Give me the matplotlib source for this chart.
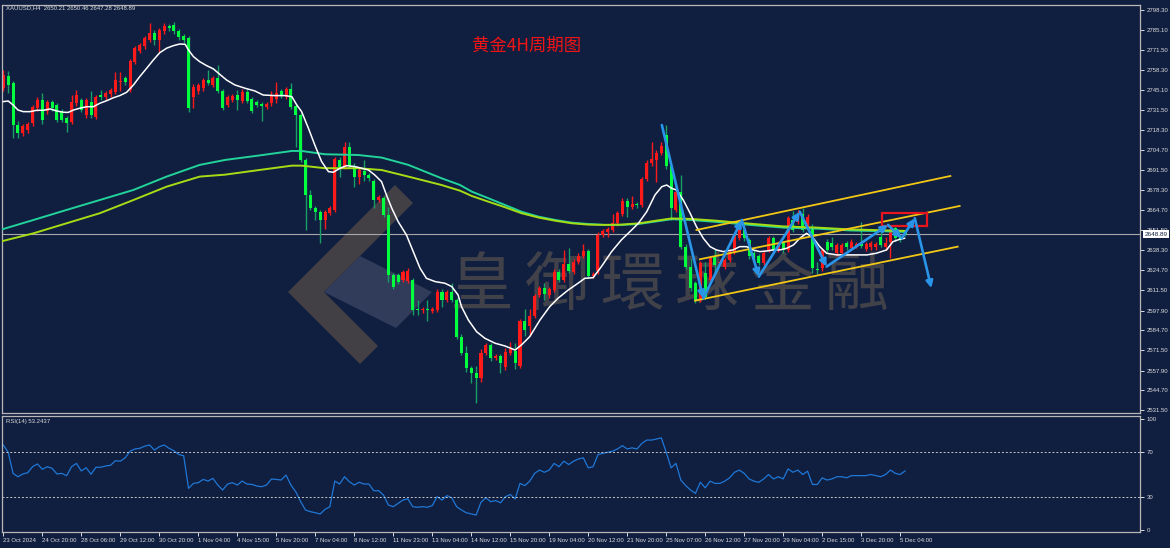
import matplotlib
matplotlib.use('Agg')
import matplotlib.pyplot as plt
import matplotlib.transforms as mtransforms
from matplotlib.patches import Polygon, Rectangle

plt.rcParams['font.family'] = ['Liberation Sans', 'Noto Sans CJK SC', 'DejaVu Sans']

BG = '#101e40'
FG = '#dcdcdc'
UP = '#ff1a1a'
DOWN = '#00ff3c'
DOWN_WICK = '#17a065'

# ---- XAUUSD H4 candles ----
opens = [
    2746.3, 2754.5, 2749.8, 2721.6, 2716.3, 2718.0, 2723.0, 2733.0, 2738.3, 2731.0,
    2737.0, 2735.0, 2731.0, 2726.0, 2723.6, 2736.0, 2738.0, 2728.0, 2737.0, 2727.0,
    2741.5, 2740.0, 2742.0, 2743.6, 2750.0, 2753.0, 2745.0, 2763.6, 2771.0, 2774.0,
    2778.3, 2783.0, 2778.3, 2784.0, 2787.6, 2788.3, 2784.0, 2781.0, 2779.8, 2740.5,
    2744.0, 2746.0, 2751.6, 2748.3, 2753.0, 2744.3, 2735.0, 2738.3, 2741.6, 2737.6,
    2743.8, 2739.0, 2737.0, 2735.3, 2733.6, 2736.0, 2739.0, 2744.0, 2740.5, 2745.6,
    2734.0, 2728.3, 2698.3, 2675.0, 2666.0, 2663.6, 2658.3, 2663.0, 2665.0, 2698.0,
    2694.0, 2707.2, 2694.5, 2687.0, 2691.0, 2688.0, 2684.3, 2671.6, 2673.0, 2661.6,
    2621.6, 2621.6, 2618.3, 2617.6, 2618.3, 2598.5, 2598.0, 2598.7, 2597.6, 2598.3,
    2610.5, 2605.0, 2610.0, 2605.0, 2580.5, 2569.4, 2559.4, 2556.0, 2553.0, 2569.6,
    2575.0, 2566.6, 2567.6, 2560.6, 2569.4, 2570.6, 2561.0, 2590.6, 2587.8, 2594.5,
    2608.3, 2612.8, 2608.0, 2611.6, 2623.8, 2618.3, 2629.0, 2623.8, 2630.5, 2634.3,
    2637.6, 2621.0, 2624.4, 2648.3, 2650.0, 2651.6, 2656.1, 2662.3, 2671.2, 2667.0,
    2669.0, 2668.5, 2685.6, 2696.1, 2698.3, 2702.8, 2715.0, 2694.0, 2665.0, 2677.0,
    2640.5, 2627.0, 2616.0, 2605.0, 2622.7, 2618.3, 2634.4, 2629.5, 2627.2, 2631.6,
    2637.2, 2646.3, 2651.6, 2645.0, 2636.0, 2634.0, 2629.4, 2638.3, 2646.0, 2638.3,
    2643.0, 2638.3, 2658.0, 2657.0, 2662.0, 2653.8, 2653.8, 2625.5, 2626.0, 2643.8,
    2643.0, 2636.1, 2636.0, 2643.0, 2639.4, 2641.0, 2642.0, 2639.0, 2640.0, 2640.0,
    2646.8, 2640.0, 2643.8, 2653.0, 2647.0, 2650.21]
highs = [
    2758.0, 2757.6, 2751.0, 2724.0, 2722.5, 2723.5, 2735.0, 2740.0, 2743.0, 2738.5,
    2738.5, 2736.5, 2732.5, 2727.5, 2741.6, 2745.0, 2739.5, 2739.5, 2744.0, 2741.5,
    2745.0, 2744.5, 2746.5, 2757.0, 2757.0, 2754.5, 2765.8, 2774.4, 2776.5, 2781.0,
    2789.6, 2785.0, 2786.5, 2789.6, 2789.0, 2790.0, 2785.5, 2782.5, 2781.0, 2748.7,
    2749.5, 2753.0, 2758.0, 2754.5, 2761.6, 2745.8, 2741.5, 2742.5, 2745.0, 2745.3,
    2745.3, 2740.0, 2738.5, 2736.8, 2736.8, 2744.0, 2750.0, 2745.5, 2747.0, 2749.6,
    2735.5, 2729.8, 2699.8, 2678.0, 2667.5, 2665.0, 2665.0, 2667.5, 2700.5, 2700.0,
    2710.5, 2710.0, 2696.0, 2693.0, 2698.0, 2689.5, 2685.8, 2675.0, 2674.5, 2667.0,
    2623.0, 2623.0, 2625.0, 2626.0, 2619.8, 2605.0, 2600.0, 2605.0, 2600.5, 2612.0,
    2612.0, 2611.5, 2616.0, 2606.5, 2582.0, 2574.0, 2561.0, 2561.0, 2572.5, 2576.5,
    2576.5, 2569.0, 2569.0, 2573.0, 2577.0, 2576.0, 2592.0, 2599.0, 2599.0, 2609.0,
    2614.3, 2616.0, 2613.5, 2625.3, 2625.3, 2638.0, 2639.5, 2632.0, 2636.0, 2642.0,
    2639.0, 2623.5, 2650.0, 2652.0, 2653.5, 2662.0, 2664.3, 2672.7, 2672.7, 2674.0,
    2670.5, 2687.0, 2698.0, 2710.5, 2704.7, 2710.5, 2721.6, 2695.5, 2678.7, 2688.3,
    2642.0, 2632.0, 2617.5, 2631.0, 2630.0, 2634.3, 2639.0, 2632.0, 2633.0, 2638.7,
    2649.8, 2656.0, 2653.0, 2646.5, 2638.0, 2635.5, 2638.0, 2647.5, 2647.5, 2644.3,
    2644.5, 2661.0, 2664.0, 2665.0, 2666.0, 2662.0, 2655.3, 2630.0, 2639.8, 2645.3,
    2647.0, 2643.0, 2643.0, 2644.5, 2645.3, 2643.5, 2657.0, 2643.5, 2644.5, 2643.5,
    2655.0, 2647.0, 2653.0, 2654.5, 2648.5, 2650.46]
lows = [
    2744.0, 2743.0, 2713.0, 2713.0, 2714.5, 2716.5, 2721.0, 2731.0, 2722.0, 2729.0,
    2731.0, 2723.5, 2723.5, 2717.0, 2722.0, 2734.5, 2730.0, 2726.5, 2726.5, 2725.5,
    2738.5, 2738.5, 2740.5, 2742.0, 2744.0, 2748.5, 2743.5, 2762.0, 2769.5, 2772.5,
    2776.8, 2775.0, 2770.0, 2782.5, 2784.5, 2782.5, 2778.5, 2776.5, 2730.0, 2733.0,
    2742.5, 2744.5, 2748.0, 2746.8, 2742.8, 2731.5, 2733.5, 2737.0, 2731.6, 2736.0,
    2736.0, 2729.5, 2733.5, 2724.0, 2732.0, 2734.5, 2736.0, 2739.5, 2739.0, 2732.3,
    2707.0, 2697.0, 2651.6, 2665.0, 2658.0, 2643.0, 2652.0, 2661.5, 2663.5, 2687.0,
    2692.5, 2693.0, 2680.5, 2682.0, 2684.0, 2684.5, 2666.3, 2670.0, 2660.0, 2617.2,
    2612.0, 2615.5, 2616.8, 2616.0, 2595.0, 2595.0, 2596.5, 2591.0, 2596.0, 2596.8,
    2600.0, 2603.5, 2603.5, 2579.0, 2568.0, 2557.0, 2549.4, 2536.0, 2550.0, 2568.0,
    2564.5, 2565.0, 2556.0, 2558.0, 2568.0, 2559.0, 2559.5, 2581.0, 2581.0, 2593.0,
    2606.8, 2605.0, 2606.5, 2610.0, 2616.8, 2616.8, 2623.0, 2622.3, 2629.0, 2632.8,
    2619.5, 2619.5, 2622.5, 2646.8, 2647.0, 2650.0, 2654.6, 2660.8, 2660.5, 2665.5,
    2666.5, 2667.0, 2684.0, 2694.6, 2683.8, 2701.3, 2692.0, 2658.3, 2663.5, 2639.0,
    2625.7, 2611.0, 2603.0, 2603.5, 2605.7, 2616.8, 2622.0, 2628.0, 2625.7, 2630.0,
    2635.7, 2644.8, 2644.5, 2632.5, 2630.0, 2628.0, 2628.0, 2636.8, 2636.8, 2636.8,
    2636.5, 2636.8, 2650.0, 2655.5, 2650.0, 2652.3, 2622.8, 2622.0, 2624.5, 2636.8,
    2638.5, 2634.6, 2634.5, 2638.5, 2638.0, 2639.5, 2639.5, 2637.5, 2638.5, 2638.5,
    2640.0, 2638.5, 2633.0, 2644.5, 2643.5, 2647.28]
closes = [
    2755.0, 2748.3, 2721.6, 2716.3, 2721.2, 2722.0, 2733.8, 2738.3, 2725.0, 2737.0,
    2733.0, 2725.0, 2725.0, 2723.0, 2737.0, 2741.6, 2731.6, 2738.0, 2728.0, 2740.0,
    2740.5, 2743.0, 2745.0, 2751.6, 2750.5, 2750.0, 2764.3, 2772.9, 2775.0, 2779.6,
    2783.0, 2778.0, 2785.0, 2787.6, 2786.0, 2784.0, 2780.0, 2778.0, 2733.0, 2747.2,
    2748.0, 2751.6, 2749.6, 2753.0, 2744.3, 2733.0, 2740.0, 2741.0, 2738.0, 2743.8,
    2737.6, 2731.0, 2735.0, 2734.0, 2735.3, 2741.6, 2743.0, 2741.0, 2745.6, 2733.8,
    2728.3, 2698.3, 2675.0, 2666.5, 2663.6, 2658.3, 2663.6, 2666.0, 2699.0, 2693.8,
    2707.2, 2694.5, 2687.2, 2691.6, 2688.0, 2686.0, 2671.6, 2673.6, 2661.6, 2621.6,
    2613.8, 2617.0, 2623.6, 2624.3, 2598.3, 2598.0, 2598.5, 2598.3, 2599.0, 2610.5,
    2605.0, 2610.0, 2605.0, 2580.5, 2569.4, 2559.4, 2556.0, 2552.8, 2569.8, 2575.0,
    2566.1, 2567.6, 2562.8, 2570.6, 2572.5, 2562.8, 2590.6, 2585.0, 2594.5, 2607.6,
    2612.8, 2609.0, 2612.0, 2623.8, 2618.3, 2629.0, 2624.5, 2630.5, 2634.3, 2637.6,
    2621.0, 2622.0, 2648.3, 2650.6, 2652.0, 2656.1, 2662.8, 2671.2, 2667.2, 2669.0,
    2668.0, 2685.6, 2696.5, 2698.8, 2703.2, 2707.6, 2694.0, 2666.0, 2677.2, 2640.5,
    2627.2, 2613.0, 2605.0, 2629.4, 2607.2, 2632.8, 2628.3, 2630.5, 2631.6, 2637.2,
    2648.3, 2651.6, 2646.0, 2634.0, 2632.0, 2629.6, 2636.5, 2646.0, 2638.3, 2642.8,
    2638.0, 2659.4, 2651.6, 2662.0, 2651.6, 2660.5, 2626.0, 2625.0, 2638.3, 2638.3,
    2640.0, 2641.6, 2641.6, 2640.0, 2643.8, 2642.0, 2641.0, 2642.0, 2643.0, 2642.0,
    2641.6, 2643.0, 2651.6, 2646.0, 2645.0, 2648.89]

# ---- moving averages (bar index, price) ----
ma_fast_x = [0, 1, 2, 3, 4.1, 5.5, 6.8, 8.2, 9.6, 10.9,
             12.3, 13.3, 14.4, 15.7, 17.1, 18.5, 19.8, 21.2, 22.6, 23.9,
             25.3, 26.7, 28, 29.4, 30.8, 32.1, 33.5, 34.9, 36.2, 37.3,
             38, 39, 40.3, 41.7, 43.1, 44.4, 45.8, 47.5, 49.6, 51.6,
             53.3, 55.7, 57.8, 59.2, 60.2, 61.2, 62.6, 63.9, 65.3, 66.7,
             67.7, 69.1, 70.4, 72.1, 73.5, 74.9, 76.2, 77.6, 78.6, 79.7,
             81, 82.7, 84.1, 85.5, 86.8, 88.6, 90.6, 92, 93.3, 94,
             95.4, 97.1, 98.8, 100.9, 102.9, 105, 106.3, 108, 110.1, 112.1,
             113.8, 115.9, 117.9, 119.3, 121, 122.7, 124.8, 126.8, 128.9, 130.3,
             132, 133.7, 135.1, 136.1, 137.1, 138.1, 139.5, 140.9, 142.2, 143.6,
             145, 146.3, 147.7, 149.7, 151.1, 152.5, 153.8, 155.2, 156.6, 157.9,
             159.3, 160.7, 162.1, 163.4, 164.8, 166.2, 167.5, 168.9, 171, 173.1,
             175.1, 177.2, 179.1, 181.2, 182.5, 183.9, 184.9]
ma_fast_y = [2737.2, 2737.6, 2735, 2731.6, 2730.5, 2730.5, 2731.4, 2731.4, 2732.3, 2731,
             2730.1, 2730, 2731.6, 2732.8, 2733.8, 2733.8, 2736.1, 2737.8, 2739.8, 2741.2,
             2743.4, 2748.3, 2753.9, 2759.4, 2765, 2769.8, 2772.8, 2774.5, 2775.6, 2775.4,
             2771.6, 2767.2, 2763.8, 2761.2, 2759, 2755.4, 2751.6, 2748.3, 2746.1, 2744.3,
             2741.6, 2741.2, 2741.2, 2740.5, 2735, 2730.5, 2719.4, 2708.3, 2697.2, 2690.5,
             2690.1, 2692.8, 2694.5, 2693.9, 2692.8, 2691.6, 2688.3, 2683.8, 2675, 2666.1,
             2657.2, 2648.3, 2637.2, 2626.1, 2619.4, 2617.2, 2616.1, 2613.9, 2608.3, 2600.5,
             2591.6, 2583.8, 2579.4, 2576.1, 2574.3, 2571.6, 2575, 2580.5, 2591.6, 2600.5,
             2606.1, 2611.6, 2616.1, 2619.4, 2619.8, 2627.2, 2637.2, 2645, 2651.6, 2656.1,
             2663.8, 2675, 2680.5, 2681.6, 2679.4, 2678.3, 2671.6, 2662.8, 2653.9, 2646.1,
             2640.5, 2638.3, 2637.2, 2638.3, 2640.5, 2640.5, 2638.3, 2637.2, 2637.6, 2638.3,
             2638.3, 2639.4, 2641.6, 2646.1, 2649.4, 2646.1, 2640.5, 2636.1, 2635, 2635,
             2635, 2635, 2636.1, 2638.3, 2643.8, 2645.4, 2646.1]

ma_slow_x = [-0.7, 6.2, 13, 19.8, 26.7, 33.5, 40.3, 45.5, 52.3, 59.2, 61.2, 66,
             72.8, 77.6, 83.1, 89.9, 93.7, 96.1, 99.5, 102.9, 106.3, 109.8, 113.2,
             116.6, 120, 123.4, 126.8, 130.3, 133.7, 137.1, 140.9, 146.3, 153.2,
             160, 166.9, 173.7, 180.5, 185]
ma_teal_y = [2651.6, 2658.3, 2665, 2671.6, 2678.3, 2687.2, 2695, 2698.3, 2701.2, 2704.3,
             2704.3, 2702.1, 2701.6, 2699.9, 2695, 2686.1, 2681.6, 2677.2, 2672.8, 2668.3,
             2663.8, 2660.5, 2658.3, 2656.5, 2655.6, 2655, 2655, 2655.6, 2657.2, 2658.8,
             2658.3, 2657, 2655, 2653.2, 2652.5, 2651.3, 2650.8, 2650.3]
ma_lime_y = [2643.8, 2649.4, 2656.1, 2662.8, 2671.6, 2680.5, 2687.2, 2688.5, 2691.5, 2694.5,
             2694.5, 2692.8, 2692.8, 2691.6, 2687.2, 2681.6, 2677.8, 2674.3, 2670.5, 2666.8,
             2662.8, 2659.9, 2657.8, 2656.1, 2655.2, 2655, 2655.2, 2656, 2657.7, 2659.3,
             2659, 2657.8, 2655.8, 2654, 2653.2, 2652, 2651.4, 2651]

# ---- RSI(14) per bar ----
rsi = [
    76.6, 70.0, 51.0, 48.0, 50.5, 51.6, 57.0, 59.5, 54.7, 57.0,
    55.6, 50.5, 51.0, 48.9, 57.0, 60.0, 53.2, 56.1, 50.2, 56.5,
    56.5, 57.7, 58.3, 62.4, 62.0, 65.0, 71.0, 73.0, 73.6, 75.5,
    76.6, 72.0, 75.0, 76.6, 73.6, 71.4, 68.0, 66.9, 37.5, 42.0,
    42.6, 45.6, 44.1, 46.5, 40.5, 36.0, 41.4, 42.6, 40.5, 44.1,
    41.4, 41.1, 39.6, 39.0, 40.5, 45.9, 45.6, 45.0, 49.5, 40.5,
    34.5, 25.5, 18.0, 16.5, 15.6, 14.4, 18.6, 21.0, 44.1, 41.4,
    48.0, 43.5, 40.5, 43.0, 41.4, 41.4, 35.4, 35.4, 31.5, 22.5,
    21.0, 24.0, 27.0, 28.0, 21.0, 20.5, 21.0, 20.5, 22.0, 30.0,
    27.0, 31.0, 29.0, 21.0, 18.0, 15.5, 14.5, 13.5, 25.0, 29.0,
    25.5, 26.5, 24.5, 30.0, 32.0, 28.0, 42.0, 40.0, 44.0, 51.0,
    54.0, 52.0, 54.0, 60.0, 57.0, 62.0, 59.0, 62.0, 64.0, 65.0,
    56.0, 57.0, 68.0, 69.0, 70.0, 71.0, 73.0, 76.0, 73.0, 74.0,
    73.0, 78.0, 81.0, 81.0, 82.0, 83.0, 70.0, 56.0, 60.0, 45.0,
    40.0, 36.0, 33.0, 43.0, 38.0, 44.0, 42.0, 42.0, 44.0, 47.0,
    52.0, 54.0, 51.0, 46.0, 44.0, 43.0, 46.0, 50.0, 46.0, 48.0,
    46.0, 55.0, 52.0, 54.0, 50.0, 53.0, 41.0, 41.0, 47.0, 45.0,
    46.0, 48.0, 48.0, 47.0, 49.0, 49.0, 49.0, 49.0, 50.0, 49.0,
    48.0, 50.0, 54.0, 51.0, 50.0, 53.2]

# ---- drawings on chart ----
zz_x = [135.1, 143.6, 151.5, 155.0, 163.4, 168.9, 181.5, 184.3, 187.0, 190.4]
zz_y = [2721.6, 2606.0, 2658.3, 2620.5, 2663.8, 2627.2, 2655.0, 2646.1, 2659.4, 2612.8]
chan_x0 = [142.2, 142.9, 141.9]
chan_y0 = [2651.6, 2632.1, 2604.5]
chan_x1 = [194.3, 196.2, 195.8]
chan_y1 = [2687.6, 2667.6, 2640.5]
box_x = [180.2, 189.4]
box_y = [2654.3, 2663.2]
last_price = 2648.89

price_ticks = [2798.30, 2785.10, 2771.50, 2758.30, 2745.10, 2731.50, 2718.30, 2704.70,
               2691.50, 2678.30, 2664.70, 2651.50, 2638.30, 2624.70, 2611.50, 2597.90,
               2584.70, 2571.50, 2557.90, 2544.70, 2531.50]
time_labels = ['23 Oct 2024', '24 Oct 20:00', '28 Oct 06:00', '29 Oct 12:00', '30 Oct 20:00',
               '1 Nov 04:00', '4 Nov 15:00', '5 Nov 20:00', '7 Nov 04:00', '8 Nov 12:00',
               '11 Nov 23:00', '13 Nov 04:00', '14 Nov 12:00', '15 Nov 20:00', '19 Nov 04:00',
               '20 Nov 12:00', '21 Nov 20:00', '25 Nov 07:00', '26 Nov 12:00', '27 Nov 20:00',
               '29 Nov 04:00', '2 Dec 15:00', '3 Dec 20:00', '5 Dec 04:00']
time_ticks = list(range(0, 8 * len(time_labels), 8))

W, H = 1170, 548


def fpos(x, y):
    return x / W, 1 - y / H


fig = plt.figure(figsize=(W / 100, H / 100), dpi=100, facecolor=BG)
ax = fig.add_axes([2 / W, 1 - 413 / H, 1138 / W, 408 / H], facecolor=BG)
ax_rsi = fig.add_axes([2 / W, 1 - 532 / H, 1138 / W, 116 / H], facecolor=BG)

# watermark (behind the candles)
logo_dark = [(288, 292), (395, 185), (413, 203), (324, 292), (378, 346), (360, 364)]
logo_light = [(360, 256), (432, 292), (396, 328), (324, 292)]
ax.add_patch(Polygon([fpos(*p) for p in logo_light], closed=True, transform=fig.transFigure,
                     facecolor='#303c5a', edgecolor='none', zorder=0.3))
ax.add_patch(Polygon([fpos(*p) for p in logo_dark], closed=True, transform=fig.transFigure,
                     facecolor='#423f45', edgecolor='none', zorder=0.4))
for i, ch in enumerate('皇御環球金融'):
    x, y = fpos(482 + 75 * i, 287)
    ax.text(x, y, ch, transform=fig.transFigure, ha='center', va='center',
            fontsize=46, color='#41414a', family=['Noto Sans CJK TC', 'Noto Sans CJK SC'],
            zorder=0.5)

# candles
for i in range(len(closes)):
    o, h, l, c = opens[i], highs[i], lows[i], closes[i]
    bull = c >= o
    body_col = UP if bull else DOWN
    wick_col = UP if bull else DOWN_WICK
    ax.vlines(i, l, h, color=wick_col, lw=1, zorder=2)
    ax.bar(i, max(abs(c - o), 0.6), bottom=min(o, c), width=0.62,
           color=body_col, edgecolor='none', zorder=2.1)

ax.plot(ma_slow_x, ma_teal_y, color='#22d49a', lw=1.4, zorder=3)
ax.plot(ma_slow_x, ma_lime_y, color='#a6dc14', lw=1.4, zorder=3)
ax.plot(ma_fast_x, ma_fast_y, color='white', lw=1.1, zorder=3.2)

ax.axhline(last_price, color='#a8a8a8', lw=0.8, zorder=1.5)

for x0, y0, x1, y1 in zip(chan_x0, chan_y0, chan_x1, chan_y1):
    ax.plot([x0, x1], [y0, y1], color='#f2c815', lw=1.3, zorder=4)

ax.add_patch(Rectangle((box_x[0], box_y[0]), box_x[1] - box_x[0], box_y[1] - box_y[0],
                       fill=False, edgecolor='#e8141e', lw=1.6, zorder=4.2))

for k in range(len(zz_x) - 1):
    ax.annotate('', xy=(zz_x[k + 1], zz_y[k + 1]), xytext=(zz_x[k], zz_y[k]),
                arrowprops=dict(arrowstyle='-|>,head_length=0.45,head_width=0.22',
                                color='#2a94e8', lw=1.9, shrinkA=0, shrinkB=0,
                                mutation_scale=9),
                zorder=4.5)

ax.set_xlim(-0.27, 233.2)
ax.set_ylim(2529.6, 2801.6)
ax.yaxis.tick_right()
ax.set_yticks(price_ticks)
ax.set_yticklabels(['%.2f' % v for v in price_ticks])
ax.tick_params(axis='y', colors=FG, labelsize=4.3, length=3, width=0.7, pad=2)
ax.tick_params(axis='x', length=0, labelbottom=False)

# last price marker on the scale
trans = mtransforms.blended_transform_factory(ax.transAxes, ax.transData)
ax.text(1.004, last_price, '%.2f' % last_price, transform=trans, ha='left', va='center',
        fontsize=4.6, color=BG, zorder=6,
        bbox=dict(boxstyle='square,pad=0.25', fc='white', ec='none'))

# RSI panel
ax_rsi.plot(range(len(rsi)), rsi, color='#1f78d6', lw=0.9)
for lvl in (70, 30):
    ax_rsi.axhline(lvl, color='#c8c8c8', lw=0.7, ls=(0, (2, 2)))
ax_rsi.set_xlim(-0.27, 233.2)
ax_rsi.set_ylim(-1.8, 102.7)
ax_rsi.yaxis.tick_right()
ax_rsi.set_yticks([100, 70, 30, 0])
ax_rsi.set_yticklabels(['100', '70', '30', '0'])
ax_rsi.tick_params(axis='y', colors=FG, labelsize=4.3, length=3, width=0.7, pad=2)
ax_rsi.set_xticks(time_ticks)
ax_rsi.set_xticklabels(time_labels, ha='left')
ax_rsi.tick_params(axis='x', colors=FG, labelsize=4.3, length=3, width=0.7, pad=1.5)

for a in (ax, ax_rsi):
    for s in a.spines.values():
        s.set_color('#b8b8b8')
        s.set_linewidth(0.9)

# texts
fig.text(*fpos(6, 8), 'XAUUSD,H4  2650.21 2650.46 2647.28 2648.89', color=FG,
         fontsize=4.3, va='center', ha='left')
fig.text(*fpos(6, 421), 'RSI(14) 53.2437', color=FG, fontsize=4.3, va='center', ha='left')
fig.text(*fpos(472, 46), '黄金4H周期图', color='#f01414', fontsize=12.5, va='center', ha='left',
         family=['Noto Sans CJK SC', 'DejaVu Sans'])

fig.savefig('out.png', dpi=100, facecolor=BG)
